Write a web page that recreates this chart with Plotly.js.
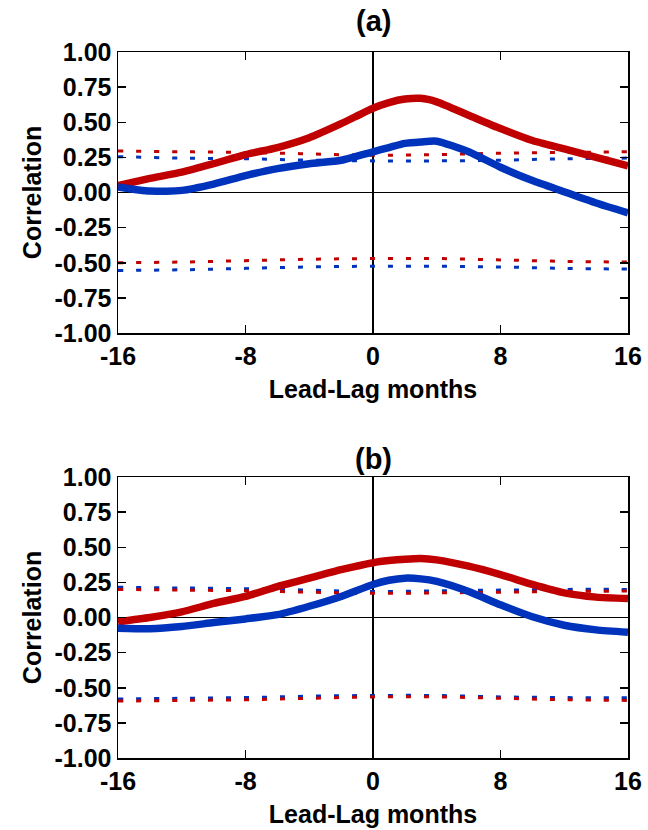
<!DOCTYPE html>
<html>
<head>
<meta charset="utf-8">
<script src="https://cdn.plot.ly/plotly-3.0.1.min.js"></script>
<style>html,body{margin:0;padding:0;background:#fff;}#chart{width:648px;height:830px;}</style>
</head>
<body>
<div id="chart"></div>
<script>
// Lead-lag months
const lags = [-16,-14,-12,-10,-8,-6,-4,-2,0,1,2,3,4,6,8,10,12,14,16];
// Panel (a) correlations
const aRed  = [0.05,0.10,0.145,0.205,0.27,0.32,0.39,0.49,0.60,0.64,0.665,0.67,0.645,0.55,0.455,0.37,0.31,0.25,0.19];
const aBlue = [0.04,0.01,0.015,0.06,0.12,0.17,0.205,0.23,0.29,0.32,0.35,0.36,0.365,0.29,0.18,0.085,0.005,-0.075,-0.145];
// Panel (b) correlations
const bRed  = [-0.03,0.0,0.04,0.10,0.15,0.22,0.28,0.34,0.39,0.405,0.415,0.42,0.41,0.365,0.305,0.235,0.175,0.145,0.135];
const bBlue = [-0.076,-0.08,-0.064,-0.036,-0.01,0.02,0.08,0.15,0.235,0.265,0.28,0.275,0.257,0.185,0.09,0.005,-0.055,-0.088,-0.105];
// Significance levels (dotted)
const sigLags = [-16,-12,-8,-4,0,4,8,12,16];
const aRedUp   = [0.295,0.29,0.285,0.275,0.265,0.27,0.28,0.285,0.29];
const aBlueUp  = [0.255,0.245,0.24,0.23,0.225,0.225,0.23,0.24,0.245];
const aRedLo   = [-0.50,-0.495,-0.485,-0.475,-0.47,-0.47,-0.48,-0.49,-0.495];
const aBlueLo  = [-0.555,-0.55,-0.54,-0.53,-0.525,-0.525,-0.53,-0.54,-0.545];
const bRedUp   = [0.2,0.195,0.19,0.18,0.172,0.175,0.18,0.185,0.188];
const bBlueUp  = [0.215,0.21,0.205,0.195,0.185,0.19,0.195,0.2,0.2];
const bRedLo   = [-0.595,-0.59,-0.585,-0.575,-0.565,-0.565,-0.575,-0.585,-0.59];
const bBlueLo  = [-0.58,-0.575,-0.57,-0.56,-0.555,-0.555,-0.565,-0.57,-0.572];
const yTicks = [-1,-0.75,-0.5,-0.25,0,0.25,0.5,0.75,1];
const yTickText = ["-1.00","-0.75","-0.50","-0.25","0.00","0.25","0.50","0.75","1.00"];
const xTicks = [-16,-8,0,8,16];

const RED = '#C00000', BLUE = '#0033BB';
const FONT = 'Liberation Sans, Arial, sans-serif';

function solid(x, y, c, xa, ya){ return {x:x, y:y, type:'scatter', mode:'lines', line:{color:c, width:7.5, shape:'spline', smoothing:0.6}, xaxis:xa, yaxis:ya, hoverinfo:'none'}; }
function dotted(x, y, c, xa, ya){ return {x:x, y:y, type:'scatter', mode:'lines', line:{color:c, width:3, dash:'5px,13px', shape:'spline'}, xaxis:xa, yaxis:ya, hoverinfo:'none'}; }

const data = [
  dotted(sigLags, aRedUp, RED, 'x', 'y'),
  dotted(sigLags, aBlueUp, BLUE, 'x', 'y'),
  dotted(sigLags, aRedLo, RED, 'x', 'y'),
  dotted(sigLags, aBlueLo, BLUE, 'x', 'y'),
  solid(lags, aRed, RED, 'x', 'y'),
  solid(lags, aBlue, BLUE, 'x', 'y'),
  dotted(sigLags, bBlueUp, BLUE, 'x2', 'y2'),
  dotted(sigLags, bRedUp, RED, 'x2', 'y2'),
  dotted(sigLags, bBlueLo, BLUE, 'x2', 'y2'),
  dotted(sigLags, bRedLo, RED, 'x2', 'y2'),
  solid(lags, bRed, RED, 'x2', 'y2'),
  solid(lags, bBlue, BLUE, 'x2', 'y2')
];

const TF = {family:FONT, size:25, color:'#000', weight:'bold'};
function xax(anchor){
  return {anchor:anchor, range:[-16,16], tickvals:xTicks, ticktext:xTicks.map(String),
    ticks:'inside', ticklen:8, tickwidth:1.5, tickcolor:'#000', mirror:'ticks', showline:true, linecolor:'#000', linewidth:1.5,
    showgrid:false, zeroline:true, zerolinecolor:'#000', zerolinewidth:1.5,
    tickfont:TF,
    title:{text:'Lead-Lag months', font:TF, standoff:12}};
}
function yax(anchor, dom){
  return {anchor:anchor, domain:dom, range:[-1,1], tickvals:yTicks, ticktext:yTickText,
    ticks:'inside', ticklen:8, tickwidth:1.5, tickcolor:'#000', mirror:'ticks', showline:true, linecolor:'#000', linewidth:1.5,
    showgrid:false, zeroline:true, zerolinecolor:'#000', zerolinewidth:1.5,
    tickfont:TF,
    title:{text:'Correlation', font:TF, standoff:6}};
}

const layout = {
  width:648, height:830, paper_bgcolor:'#fff', plot_bgcolor:'#fff', showlegend:false,
  margin:{l:118, r:20, t:52, b:72},
  xaxis: xax('y'),
  yaxis: yax('x', [425/706, 1]),
  xaxis2: xax('y2'),
  yaxis2: yax('x2', [0, 281/706]),
  annotations:[
    {text:'(a)', xref:'paper', yref:'paper', x:0.5, y:(758-21)/706, xanchor:'center', yanchor:'middle', showarrow:false, font:{family:FONT, size:29, color:'#000', weight:'bold'}},
    {text:'(b)', xref:'paper', yref:'paper', x:0.5, y:(758-459)/706, xanchor:'center', yanchor:'middle', showarrow:false, font:{family:FONT, size:29, color:'#000', weight:'bold'}}
  ]
};

Plotly.newPlot('chart', data, layout, {staticPlot:true, displayModeBar:false});
</script>
</body>
</html>
